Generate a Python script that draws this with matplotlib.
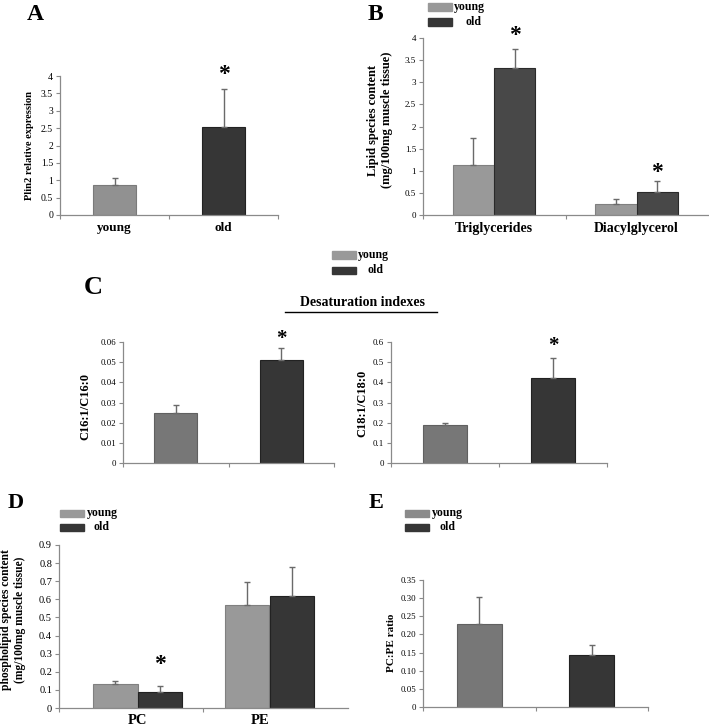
import matplotlib
matplotlib.use("Agg")
import matplotlib.pyplot as plt
from matplotlib.patches import Rectangle
import numpy as np

W, H = 709, 727
SERIF = ['Liberation Serif', 'DejaVu Serif']
plt.rcParams['font.family'] = SERIF
plt.rcParams['font.weight'] = 'bold'

# ---------------- data ----------------
groups = ['young', 'old']
A_vals = [0.85, 2.53]
A_err = [0.22, 1.09]

B_cats = ['Triglycerides', 'Diacylglycerol']
B_young = [1.12, 0.25]
B_young_err = [0.63, 0.11]
B_old = [3.32, 0.52]
B_old_err = [0.43, 0.24]

C16_vals = [0.025, 0.051]
C16_err = [0.004, 0.006]
C18_vals = [0.19, 0.42]
C18_err = [0.007, 0.10]

D_cats = ['PC', 'PE']
D_young = [0.13, 0.57]
D_young_err = [0.02, 0.125]
D_old = [0.09, 0.62]
D_old_err = [0.03, 0.16]

E_vals = [0.23, 0.143]
E_err = [0.073, 0.029]

A_ticks = [0, 0.5, 1, 1.5, 2, 2.5, 3, 3.5, 4]
A_ticklabels = ['0', '0.5', '1', '1.5', '2', '2.5', '3', '3.5', '4']
C16_ticks = [0, 0.01, 0.02, 0.03, 0.04, 0.05, 0.06]
C16_ticklabels = ['0', '0.01', '0.02', '0.03', '0.04', '0.05', '0.06']
C18_ticks = [0, 0.1, 0.2, 0.3, 0.4, 0.5, 0.6]
C18_ticklabels = ['0', '0.1', '0.2', '0.3', '0.4', '0.5', '0.6']
D_ticks = [0, 0.1, 0.2, 0.3, 0.4, 0.5, 0.6, 0.7, 0.8, 0.9]
D_ticklabels = ['0', '0.1', '0.2', '0.3', '0.4', '0.5', '0.6', '0.7', '0.8', '0.9']
E_ticks = [0, 0.05, 0.10, 0.15, 0.20, 0.25, 0.30, 0.35]
E_ticklabels = ['0', '0.05', '0.10', '0.15', '0.20', '0.25', '0.30', '0.35']

# colours
LIGHT = '#999999'
MID = '#777777'
DARK = '#363636'
AXC = '#8a8a8a'
ERRC = '#6a6a6a'

fig = plt.figure(figsize=(W / 100, H / 100), dpi=100)
fig.patch.set_facecolor('white')


def rect(x0, y_top, x1, y_bot):
    return [x0 / W, 1 - y_bot / H, (x1 - x0) / W, (y_bot - y_top) / H]


def fx(x):
    return x / W


def fy(y):
    return 1 - y / H


def style_axes(ax, ylim, ticks, ticklabels, tick_fs, xlim, bounds):
    ax.set_ylim(*ylim)
    ax.set_xlim(*xlim)
    for s in ['top', 'right']:
        ax.spines[s].set_visible(False)
    for s in ['left', 'bottom']:
        ax.spines[s].set_color(AXC)
        ax.spines[s].set_linewidth(0.9)
    ax.set_yticks(ticks)
    ax.set_yticklabels(ticklabels, fontsize=tick_fs, fontweight='normal')
    ax.tick_params(axis='y', length=3, width=0.8, color=AXC, pad=2)
    ax.set_xticks(bounds)
    ax.set_xticklabels([''] * len(bounds))
    ax.tick_params(axis='x', length=3, width=0.8, color=AXC)
    ax.patch.set_alpha(0)


def bars(ax, xs, vals, errs, color, width, edge):
    ax.bar(xs, vals, width=width, color=color, edgecolor=edge, linewidth=0.8, zorder=2)
    ax.errorbar(xs, vals, yerr=[np.zeros(len(errs)), errs], fmt='none',
                ecolor=ERRC, elinewidth=1.0, capsize=2, capthick=1.0, zorder=3)


def legend(x, y1, y2, tx_y, tx_o, fs, colors=(LIGHT, DARK)):
    for yy, c in zip((y1, y2), colors):
        fig.patches.append(Rectangle((fx(x), fy(yy + 3.5)), 24 / W, 7 / H,
                                     transform=fig.transFigure, color=c))
    fig.text(fx(tx_y), fy(y1), 'young', fontsize=fs, fontweight='bold', va='center', ha='left')
    fig.text(fx(tx_o), fy(y2), 'old', fontsize=fs, fontweight='bold', va='center', ha='left')


# ---------------- panel A ----------------
axA = fig.add_axes(rect(60, 76, 278, 215))
style_axes(axA, (0, 4), A_ticks, A_ticklabels, 7, (-0.5, 1.5), [-0.5, 0.5, 1.5])
xA = np.arange(len(groups))
bars(axA, xA[:1], A_vals[:1], A_err[:1], '#919191', 0.4, '#7a7a7a')
bars(axA, xA[1:], A_vals[1:], A_err[1:], DARK, 0.4, '#222222')
for xi, g in zip(xA, groups):
    axA.text(xi, -0.095, g, transform=axA.get_xaxis_transform(), ha='center', va='center',
             fontsize=9.5, fontweight='bold')
axA.text(1, 4.05, '*', ha='center', va='center', fontsize=17, fontweight='bold', clip_on=False)
fig.text(fx(30), fy(145), 'Plin2 relative expression', rotation=90, ha='center', va='center',
         fontsize=7.6, fontweight='bold')
fig.text(fx(27), fy(15), 'A', fontsize=17, fontweight='bold', ha='left', va='center')

# ---------------- panel B ----------------
axB = fig.add_axes(rect(423, 38, 708, 215))
c0 = 494.0
step = 142.5
style_axes(axB, (0, 4), A_ticks, A_ticklabels, 6.5,
           ((423 - c0) / step, (708 - c0) / step), [(423 - c0) / step, (566 - c0) / step])
xB = np.arange(len(B_cats))
bw = 0.29
bars(axB, xB - bw / 2, B_young, B_young_err, LIGHT, bw, '#808080')
bars(axB, xB + bw / 2, B_old, B_old_err, '#484848', bw, '#2a2a2a')
for xi, c in zip(xB, B_cats):
    axB.text(xi, -0.075, c, transform=axB.get_xaxis_transform(), ha='center', va='center',
             fontsize=10, fontweight='bold')
axB.text(0 + bw / 2, 4.05, '*', ha='center', va='center', fontsize=17, fontweight='bold', clip_on=False)
axB.text(1 + bw / 2, 0.95, '*', ha='center', va='center', fontsize=17, fontweight='bold', clip_on=False)
fig.text(fx(380), fy(120), 'Lipid species content\n(mg/100mg muscle tissue)', rotation=90,
         ha='center', va='center', fontsize=9, fontweight='bold', linespacing=1.15)
fig.text(fx(368), fy(15), 'B', fontsize=17, fontweight='bold', ha='left', va='center')
legend(428, 7, 22, 454, 465, 8.5)

# ---------------- panel C ----------------
axC1 = fig.add_axes(rect(123, 342, 334, 463))
style_axes(axC1, (0, 0.06), C16_ticks, C16_ticklabels, 6.3, (-0.5, 1.5), [-0.5, 0.5, 1.5])
xC = np.arange(2)
bars(axC1, xC[:1], C16_vals[:1], C16_err[:1], MID, 0.41, '#606060')
bars(axC1, xC[1:], C16_vals[1:], C16_err[1:], DARK, 0.41, '#222222')
axC1.text(1, 0.0615, '*', ha='center', va='center', fontsize=15, fontweight='bold', clip_on=False)
fig.text(fx(85), fy(407), 'C16:1/C16:0', rotation=90, ha='center', va='center',
         fontsize=9, fontweight='bold')

axC2 = fig.add_axes(rect(391, 342, 607, 463))
style_axes(axC2, (0, 0.6), C18_ticks, C18_ticklabels, 6.3, (-0.5, 1.5), [-0.5, 0.5, 1.5])
bars(axC2, xC[:1], C18_vals[:1], C18_err[:1], MID, 0.4, '#606060')
bars(axC2, xC[1:], C18_vals[1:], C18_err[1:], DARK, 0.4, '#222222')
axC2.text(1, 0.58, '*', ha='center', va='center', fontsize=15, fontweight='bold', clip_on=False)
fig.text(fx(362), fy(403), 'C18:1/C18:0', rotation=90, ha='center', va='center',
         fontsize=9, fontweight='bold')

fig.text(fx(362), fy(302), 'Desaturation indexes', ha='center', va='center',
         fontsize=10, fontweight='bold')
fig.add_artist(plt.Line2D([fx(285), fx(437)], [fy(312), fy(312)], color='black', linewidth=1.0))
fig.text(fx(84), fy(288), 'C', fontsize=19, fontweight='bold', ha='left', va='center')
legend(332, 255, 270, 358, 368, 8.5, colors=(LIGHT, DARK))

# ---------------- panel D ----------------
axD = fig.add_axes(rect(59, 545, 348, 708))
d0 = 137.5
dstep = 132.0
style_axes(axD, (0, 0.9), D_ticks, D_ticklabels, 7.5,
           ((59 - d0) / dstep, (348 - d0) / dstep), [(59 - d0) / dstep, (203 - d0) / dstep])
xD = np.arange(len(D_cats))
dw = 0.335
bars(axD, xD - dw / 2, D_young, D_young_err, LIGHT, dw, '#808080')
bars(axD, xD + dw / 2, D_old, D_old_err, DARK, dw, '#222222')
for xi, c in zip(xD, D_cats):
    axD.text(xi - 0.07 * xi, -0.075, c, transform=axD.get_xaxis_transform(), ha='center',
             va='center', fontsize=10.5, fontweight='bold')
axD.text(0 + dw / 2, 0.24, '*', ha='center', va='center', fontsize=17, fontweight='bold', clip_on=False)
fig.text(fx(13), fy(620), 'phospholipid species content\n(mg/100mg muscle tissue)', rotation=90,
         ha='center', va='center', fontsize=8.3, fontweight='bold', linespacing=1.15)
fig.text(fx(8), fy(503), 'D', fontsize=16, fontweight='bold', ha='left', va='center')
legend(60, 513, 527, 87, 94, 8.5)

# ---------------- panel E ----------------
axE = fig.add_axes(rect(423, 580, 648, 707))
style_axes(axE, (0, 0.35), E_ticks, E_ticklabels, 6.3, (-0.5, 1.5), [-0.5, 0.5, 1.5])
xE = np.arange(2)
bars(axE, xE[:1], E_vals[:1], E_err[:1], MID, 0.4, '#606060')
bars(axE, xE[1:], E_vals[1:], E_err[1:], DARK, 0.4, '#222222')
fig.text(fx(392), fy(643), 'PC:PE ratio', rotation=90, ha='center', va='center',
         fontsize=8, fontweight='bold')
fig.text(fx(369), fy(503), 'E', fontsize=16, fontweight='bold', ha='left', va='center')
legend(405, 513, 527, 432, 440, 8.5, colors=('#8a8a8a', DARK))

fig.savefig('out.png', dpi=100, facecolor='white')
